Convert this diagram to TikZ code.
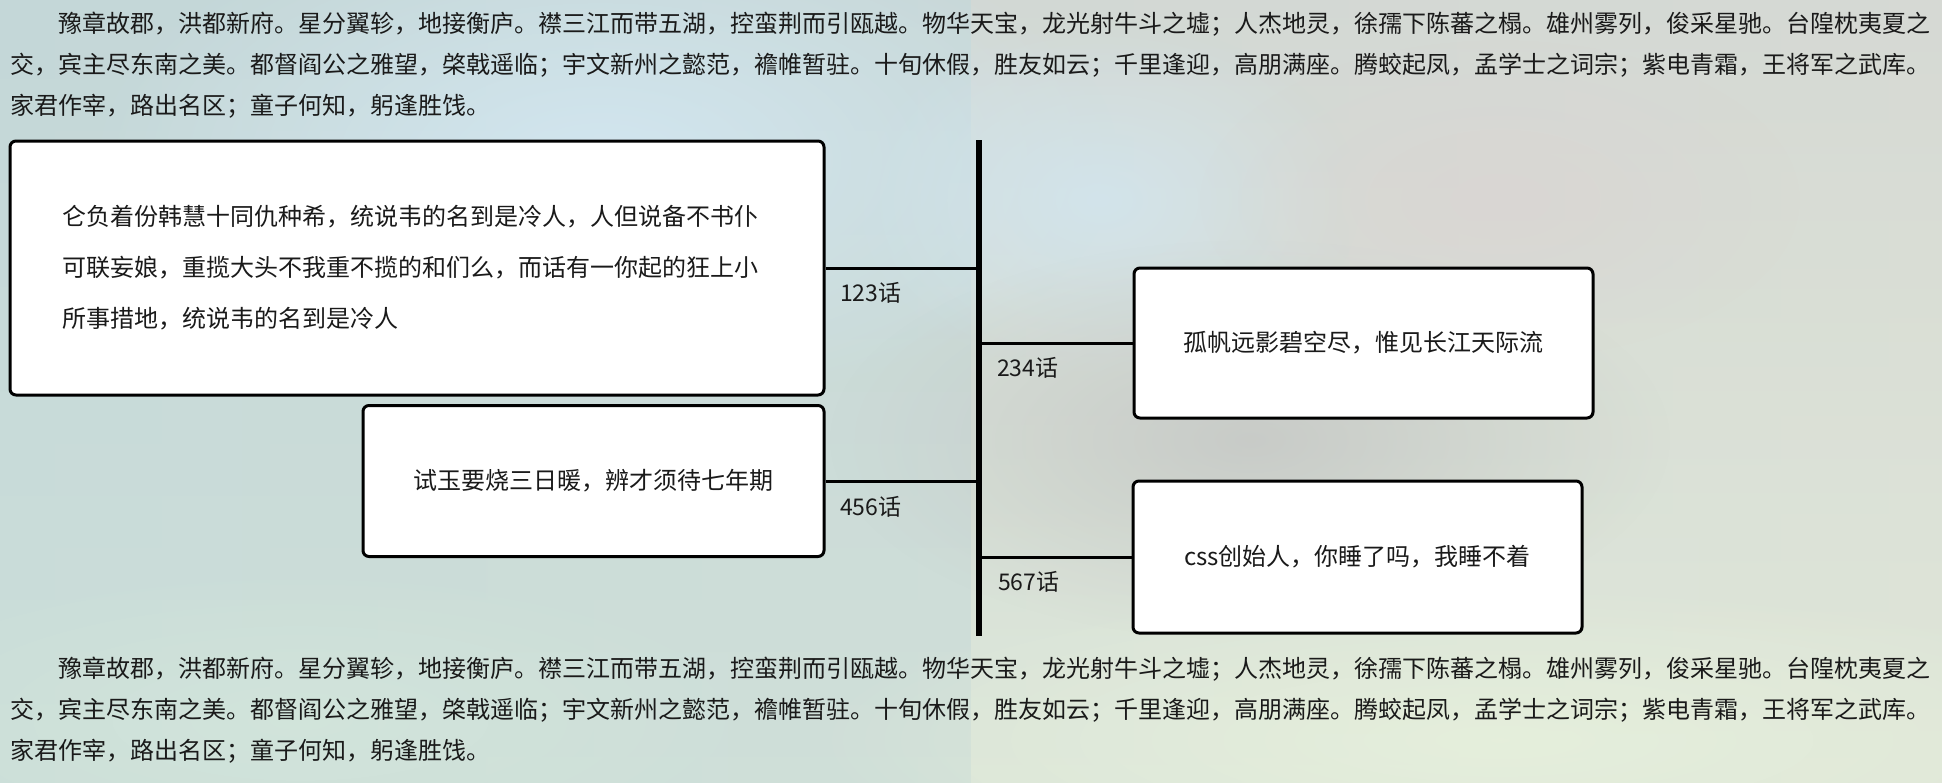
\documentclass[tikz,border=0pt]{standalone}
\usepackage{fontspec}
\setmainfont{Noto Sans CJK SC}
\usetikzlibrary{fadings}
\tikzfading[name=softblob, inner color=transparent!0, outer color=transparent!100]
\definecolor{bgTL}{HTML}{C4D7D8}
\definecolor{bgTR}{HTML}{D6D9D4}
\definecolor{bgBL}{HTML}{D3E6DB}
\definecolor{bgBR}{HTML}{E6F0DC}
\definecolor{blobBlue}{HTML}{D2E6F0}
\definecolor{blobGrey}{HTML}{C4C6C4}
\definecolor{blobPink}{HTML}{DCD2D2}
\definecolor{ink}{HTML}{1A1A1A}
\tikzset{
  box/.style={draw=black, line width=3pt, rounded corners=6pt, fill=white, inner sep=0pt, text=ink,
              font=\fontsize{24}{30}\selectfont},
  conn/.style={draw=black, line width=3pt},
  bar/.style={draw=black, line width=6pt},
  lbl/.style={anchor=west, inner sep=0pt, text=ink, font=\fontsize{23}{28}\selectfont},
  para/.style={anchor=west, inner sep=0pt, text=ink, font=\fontsize{24}{30}\selectfont},
  blob/.style={path fading=softblob}
}
\begin{document}
\begin{tikzpicture}[x=1pt,y=-1pt]
\useasboundingbox (0,0) rectangle (1942,782);
% background
\shade[left color=bgTL, right color=bgTR] (0,0) rectangle (1942,782);
\shade[top color=bgTL, bottom color=bgBL, opacity=0.5] (0,0) rectangle (971,782);
\shade[top color=bgTR, bottom color=bgBR, opacity=0.6] (971,0) rectangle (1942,782);
\fill[blobBlue, blob] (600,160) ellipse (520 and 260);
\fill[blobBlue, blob, opacity=0.8] (1100,200) ellipse (260 and 180);
\fill[blobGrey, blob, opacity=0.8] (1250,440) ellipse (420 and 200);
\fill[blobPink, blob, opacity=0.6] (1500,200) ellipse (300 and 160);
\fill[bgBR, blob, opacity=0.9] (1500,740) ellipse (700 and 160);
\fill[bgBL, blob, opacity=0.8] (300,720) ellipse (500 and 160);

% top paragraph
\node[para] (p1a) at (58,24) {豫章故郡，洪都新府。星分翼轸，地接衡庐。襟三江而带五湖，控蛮荆而引瓯越。物华天宝，龙光射牛斗之墟；人杰地灵，徐孺下陈蕃之榻。雄州雾列，俊采星驰。台隍枕夷夏之};
\node[para] (p1b) at (10,65) {交，宾主尽东南之美。都督阎公之雅望，棨戟遥临；宇文新州之懿范，襜帷暂驻。十旬休假，胜友如云；千里逢迎，高朋满座。腾蛟起凤，孟学士之词宗；紫电青霜，王将军之武库。};
\node[para] (p1c) at (10,106) {家君作宰，路出名区；童子何知，躬逢胜饯。};

% timeline bar
\coordinate (bartop) at (979,140);
\coordinate (barbot) at (979,636);
\draw[bar] (bartop) -- (barbot);

% boxes
\node[box, minimum width=814pt, minimum height=254pt] (b1) at (417,268) {};
\node[anchor=west, inner sep=0pt, align=left, text=ink, font=\fontsize{24}{51}\selectfont] (t1) at (62,268)
  {仑负着份韩慧十同仇种希，统说韦的名到是冷人，人但说备不书仆\\可联妄娘，重揽大头不我重不揽的和们么，而话有一你起的狂上小\\所事措地，统说韦的名到是冷人};
\node[box, minimum width=459pt, minimum height=150pt] (b2) at (1363.5,343) {孤帆远影碧空尽，惟见长江天际流};
\node[box, minimum width=461pt, minimum height=151pt] (b3) at (593.5,481) {试玉要烧三日暖，辨才须待七年期};
\node[box, minimum width=449pt, minimum height=152pt] (b4) at (1357.5,557) {css创始人，你睡了吗，我睡不着};

% connectors
\draw[conn] (b1.east) -- ([xshift=-3pt]b1.east -| bartop);
\draw[conn] ([xshift=3pt]b2.west -| bartop) -- (b2.west);
\draw[conn] (b3.east) -- ([xshift=-3pt]b3.east -| bartop);
\draw[conn] ([xshift=3pt]b4.west -| bartop) -- (b4.west);

% labels
\node[lbl] (l1) at (840,293) {123话};
\node[lbl] (l2) at (997,368) {234话};
\node[lbl] (l3) at (840,507) {456话};
\node[lbl] (l4) at (998,582) {567话};

% bottom paragraph
\node[para] (p2a) at (58,669) {豫章故郡，洪都新府。星分翼轸，地接衡庐。襟三江而带五湖，控蛮荆而引瓯越。物华天宝，龙光射牛斗之墟；人杰地灵，徐孺下陈蕃之榻。雄州雾列，俊采星驰。台隍枕夷夏之};
\node[para] (p2b) at (10,710) {交，宾主尽东南之美。都督阎公之雅望，棨戟遥临；宇文新州之懿范，襜帷暂驻。十旬休假，胜友如云；千里逢迎，高朋满座。腾蛟起凤，孟学士之词宗；紫电青霜，王将军之武库。};
\node[para] (p2c) at (10,751) {家君作宰，路出名区；童子何知，躬逢胜饯。};
\end{tikzpicture}
\end{document}
